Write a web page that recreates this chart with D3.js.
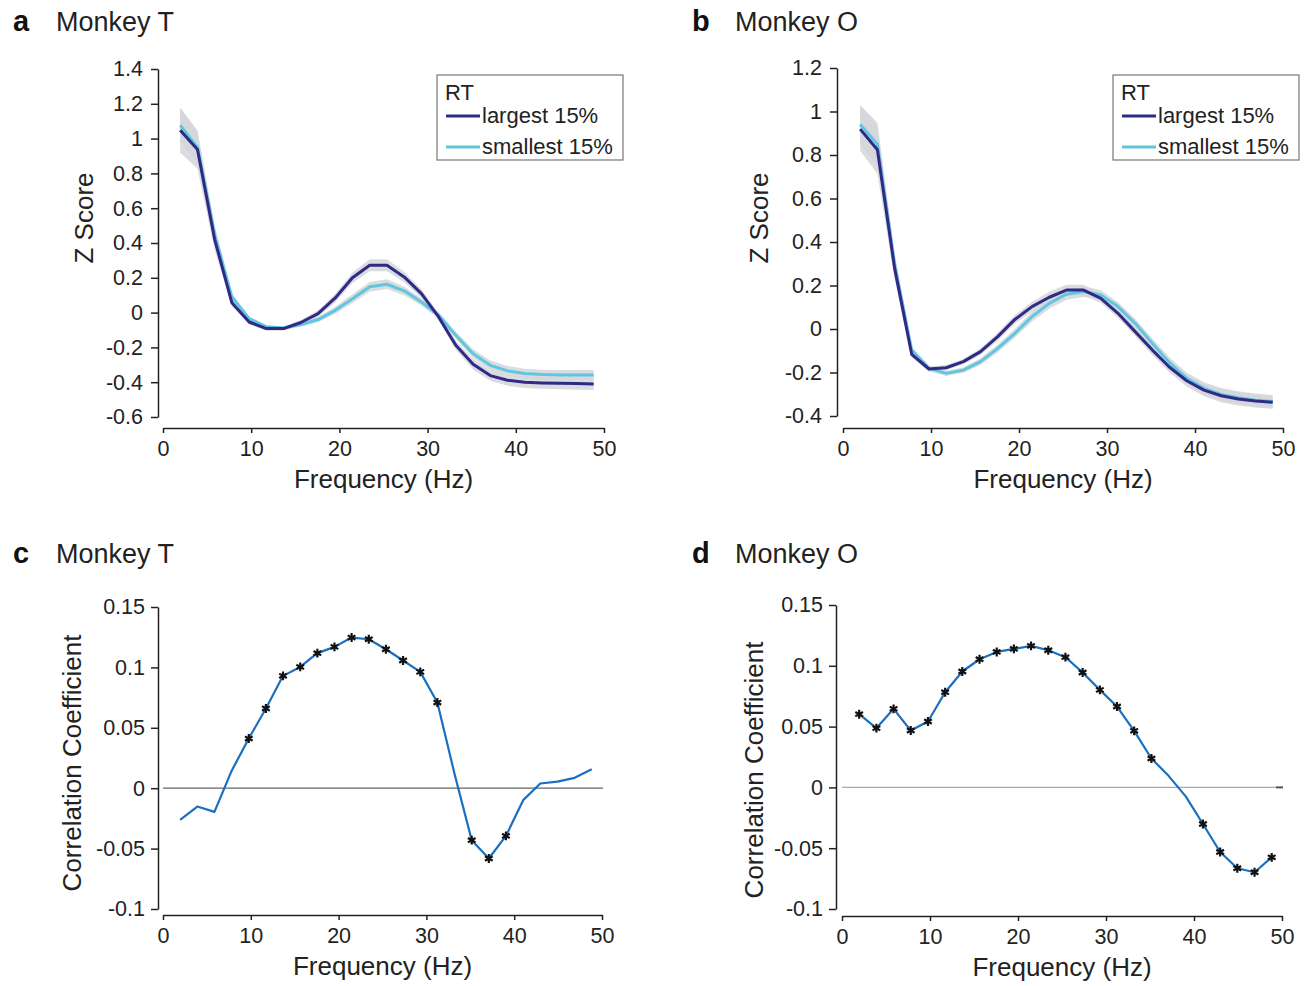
<!DOCTYPE html>
<html>
<head>
<meta charset="utf-8">
<script src="https://cdn.jsdelivr.net/npm/d3@7"></script>
<style>
  body { margin: 0; background: #fff; }
  svg { font-family: "Liberation Sans", Arial, Helvetica, sans-serif; }
  .axis path, .axis line { stroke: #222; stroke-width: 1.5; }
  .axis text { fill: #222; font-size: 21.5px; }
</style>
</head>
<body>
<svg id="chart" width="1309" height="986"></svg>
<script>
// Frequencies (Hz) of the spectral bins
const freqs = [1.95, 3.91, 5.86, 7.81, 9.77, 11.72, 13.67, 15.63, 17.58, 19.53, 21.48, 23.44, 25.39,
  27.34, 29.30, 31.25, 33.20, 35.16, 37.11, 39.06, 41.02, 42.97, 44.92, 46.88, 48.83];

// Panel a - Monkey T, z score
const tLargest = [1.048, 0.937, 0.42, 0.056, -0.054, -0.092, -0.092, -0.057, -0.006, 0.084, 0.20, 0.272, 0.272,
  0.205, 0.109, -0.025, -0.188, -0.297, -0.362, -0.389, -0.400, -0.404, -0.406, -0.408, -0.410];
const tLargestErr = [0.13, 0.11, 0.06, 0.02, 0.015, 0.012, 0.012, 0.015, 0.02, 0.025, 0.03, 0.035, 0.035,
  0.03, 0.025, 0.02, 0.025, 0.03, 0.03, 0.032, 0.033, 0.034, 0.035, 0.035, 0.035];
const tSmallest = [1.077, 0.95, 0.45, 0.09, -0.035, -0.082, -0.088, -0.069, -0.04, 0.013, 0.08, 0.148, 0.163,
  0.125, 0.061, -0.015, -0.13, -0.236, -0.303, -0.335, -0.350, -0.356, -0.358, -0.358, -0.358];
const tSmallestErr = [0.1, 0.09, 0.05, 0.02, 0.012, 0.01, 0.01, 0.012, 0.015, 0.02, 0.025, 0.028, 0.028,
  0.025, 0.02, 0.018, 0.02, 0.025, 0.028, 0.028, 0.028, 0.028, 0.028, 0.028, 0.028];

// Panel b - Monkey O, z score
const oLargest = [0.919, 0.824, 0.28, -0.117, -0.184, -0.178, -0.150, -0.104, -0.035, 0.044, 0.103, 0.146, 0.179,
  0.179, 0.141, 0.072, -0.012, -0.097, -0.176, -0.238, -0.281, -0.307, -0.322, -0.331, -0.337];
const oLargestErr = [0.1, 0.11, 0.05, 0.015, 0.012, 0.012, 0.012, 0.015, 0.018, 0.02, 0.022, 0.025, 0.025,
  0.025, 0.022, 0.02, 0.02, 0.022, 0.024, 0.026, 0.028, 0.03, 0.03, 0.03, 0.03];
const oSmallest = [0.94, 0.85, 0.30, -0.097, -0.181, -0.204, -0.189, -0.150, -0.089, -0.02, 0.057, 0.118, 0.16,
  0.172, 0.156, 0.103, 0.026, -0.066, -0.155, -0.227, -0.273, -0.301, -0.316, -0.327, -0.334];
const oSmallestErr = [0.09, 0.1, 0.05, 0.015, 0.012, 0.012, 0.012, 0.015, 0.018, 0.02, 0.022, 0.025, 0.025,
  0.025, 0.022, 0.02, 0.02, 0.022, 0.024, 0.026, 0.028, 0.03, 0.03, 0.03, 0.03];

// Panels c, d - correlation coefficients, with significance flags
const tCorr = [-0.0262, -0.0152, -0.0196, 0.0143, 0.0411, 0.066, 0.093, 0.1004, 0.1118, 0.117, 0.1247, 0.1233, 0.115,
  0.1057, 0.0963, 0.0709, 0.012, -0.043, -0.0582, -0.0395, -0.0099, 0.0039, 0.0055, 0.0086, 0.0157];
const tSig = [0, 0, 0, 0, 1, 1, 1, 1, 1, 1, 1, 1, 1, 1, 1, 1, 0, 1, 1, 1, 0, 0, 0, 0, 0];
const oCorr = [0.0602, 0.0487, 0.0646, 0.0468, 0.0542, 0.0783, 0.0953, 0.1054, 0.1114, 0.1139, 0.1164, 0.1128, 0.1071,
  0.0945, 0.0802, 0.0665, 0.0465, 0.0238, 0.0095, -0.0074, -0.0301, -0.0531, -0.0665, -0.0698, -0.0575];
const oSig = [1, 1, 1, 1, 1, 1, 1, 1, 1, 1, 1, 1, 1, 1, 1, 1, 1, 1, 0, 0, 1, 1, 1, 1, 1];

// Tick labels
const freqTicks = [0, 10, 20, 30, 40, 50];
const zTicksT = [-0.6, -0.4, -0.2, 0, 0.2, 0.4, 0.6, 0.8, 1, 1.2, 1.4];
const zTicksO = [-0.4, -0.2, 0, 0.2, 0.4, 0.6, 0.8, 1, 1.2];
const corrTicks = [-0.1, -0.05, 0, 0.05, 0.1, 0.15];

const COLORS = { largest: "#2e2a86", smallest: "#5fc6df", band: "#d4d6da", corr: "#1b6fbf" };

const svg = d3.select("#chart");
const fmt = (d) => String(+d.toFixed(2));

function panelHeader(letter, title, x, y) {
  svg.append("text").attr("x", x).attr("y", y).attr("font-size", 29).attr("font-weight", "bold")
    .attr("fill", "#111").text(letter);
  svg.append("text").attr("x", x + 43).attr("y", y).attr("font-size", 27).attr("fill", "#222").text(title);
}

function drawAxes(p) {
  const x = d3.scaleLinear().domain([0, 50]).range(p.xRange);
  const y = d3.scaleLinear().domain(p.yDomain).range(p.yRange);

  svg.append("g").attr("class", "axis").attr("transform", `translate(0,${p.xAxisY})`)
    .call(d3.axisBottom(x).tickValues(freqTicks).tickFormat(fmt).tickSizeInner(5).tickSizeOuter(0).tickPadding(8));
  svg.append("g").attr("class", "axis").attr("transform", `translate(${p.yAxisX},0)`)
    .call(d3.axisLeft(y).tickValues(p.yTicks).tickFormat(fmt).tickSizeInner(7).tickSizeOuter(0).tickPadding(p.yPad));

  svg.append("text").attr("text-anchor", "middle").attr("font-size", 26).attr("fill", "#222")
    .attr("x", (p.xRange[0] + p.xRange[1]) / 2).attr("y", p.xAxisY + 60).text("Frequency (Hz)");
  svg.append("text").attr("text-anchor", "middle").attr("font-size", 26).attr("fill", "#222")
    .attr("transform", `translate(${p.yLabelX},${p.yLabelY}) rotate(-90)`).text(p.yLabel);
  return { x, y };
}

function drawZPanel(p) {
  const { x, y } = drawAxes(p);
  const series = [
    { mean: p.smallest, err: p.smallestErr, color: COLORS.smallest },
    { mean: p.largest, err: p.largestErr, color: COLORS.largest }
  ];
  const area = (s) => d3.area().x((d, i) => x(freqs[i]))
    .y0((d, i) => y(d - s.err[i])).y1((d, i) => y(d + s.err[i]));
  const line = d3.line().x((d, i) => x(freqs[i])).y((d) => y(d));

  series.forEach((s) => {
    svg.append("path").datum(s.mean).attr("d", area(s)).attr("fill", COLORS.band).attr("opacity", 0.85);
  });
  // smallest first, largest on top
  series.forEach((s) => {
    svg.append("path").datum(s.mean).attr("d", line).attr("fill", "none")
      .attr("stroke", s.color).attr("stroke-width", 3).attr("stroke-linejoin", "round");
  });

  // legend
  const lg = svg.append("g").attr("transform", `translate(${p.legendX},75)`);
  lg.append("rect").attr("width", p.legendW).attr("height", 85).attr("fill", "#fff")
    .attr("stroke", "#777").attr("stroke-width", 1.2);
  lg.append("text").attr("x", 8).attr("y", 25).attr("font-size", 22).attr("fill", "#222").text("RT");
  [["largest 15%", COLORS.largest, 41], ["smallest 15%", COLORS.smallest, 72]].forEach(([label, c, yy]) => {
    lg.append("line").attr("x1", 9).attr("x2", 43).attr("y1", yy).attr("y2", yy)
      .attr("stroke", c).attr("stroke-width", 3);
    lg.append("text").attr("x", 45).attr("y", yy + 7).attr("font-size", 22).attr("fill", "#222").text(label);
  });
}

function drawCorrPanel(p) {
  const { x, y } = drawAxes(p);
  svg.append("line").attr("x1", p.xRange[0]).attr("x2", p.xRange[1] + 1).attr("y1", y(0)).attr("y2", y(0))
    .attr("stroke", p.zeroColor).attr("stroke-width", 1.2);
  if (p.zeroEnd) {
    svg.append("line").attr("x1", p.xRange[1] - 6).attr("x2", p.xRange[1] + 1).attr("y1", y(0)).attr("y2", y(0))
      .attr("stroke", "#555").attr("stroke-width", 2);
  }
  const line = d3.line().x((d, i) => x(freqs[i])).y((d) => y(d));
  svg.append("path").datum(p.values).attr("d", line).attr("fill", "none")
    .attr("stroke", COLORS.corr).attr("stroke-width", 2.2).attr("stroke-linejoin", "round");
  const star = d3.symbol().type(d3.symbolAsterisk).size(55);
  svg.append("g").selectAll("path")
    .data(p.values.map((v, i) => ({ f: freqs[i], v, s: p.sig[i] })).filter((d) => d.s))
    .join("path")
    .attr("transform", (d) => `translate(${x(d.f)},${y(d.v)})`)
    .attr("d", star).attr("fill", "none").attr("stroke", "#111").attr("stroke-width", 2.2);
}

panelHeader("a", "Monkey T", 13, 31);
drawZPanel({
  xRange: [163, 604], xAxisY: 428, yAxisX: 158, yDomain: [-0.6, 1.4], yRange: [417, 69], yTicks: zTicksT,
  yPad: 8, yLabel: "Z Score", yLabelX: 93, yLabelY: 218,
  largest: tLargest, largestErr: tLargestErr, smallest: tSmallest, smallestErr: tSmallestErr,
  legendX: 437, legendW: 186
});

panelHeader("b", "Monkey O", 692, 31);
drawZPanel({
  xRange: [843, 1283], xAxisY: 428, yAxisX: 837, yDomain: [-0.4, 1.2], yRange: [416, 68], yTicks: zTicksO,
  yPad: 8, yLabel: "Z Score", yLabelX: 768, yLabelY: 218,
  largest: oLargest, largestErr: oLargestErr, smallest: oSmallest, smallestErr: oSmallestErr,
  legendX: 1113, legendW: 186
});

panelHeader("c", "Monkey T", 13, 563);
drawCorrPanel({
  xRange: [163, 602], xAxisY: 915, yAxisX: 158, yDomain: [-0.1, 0.15], yRange: [909, 607], yTicks: corrTicks,
  yPad: 6, yLabel: "Correlation Coefficient", yLabelX: 81, yLabelY: 763,
  values: tCorr, sig: tSig, zeroColor: "#666"
});

panelHeader("d", "Monkey O", 692, 563);
drawCorrPanel({
  xRange: [842, 1282], xAxisY: 916, yAxisX: 836, yDomain: [-0.1, 0.15], yRange: [909, 605], yTicks: corrTicks,
  yPad: 6, yLabel: "Correlation Coefficient", yLabelX: 763, yLabelY: 770,
  values: oCorr, sig: oSig, zeroColor: "#aaa", zeroEnd: true
});
</script>
</body>
</html>
